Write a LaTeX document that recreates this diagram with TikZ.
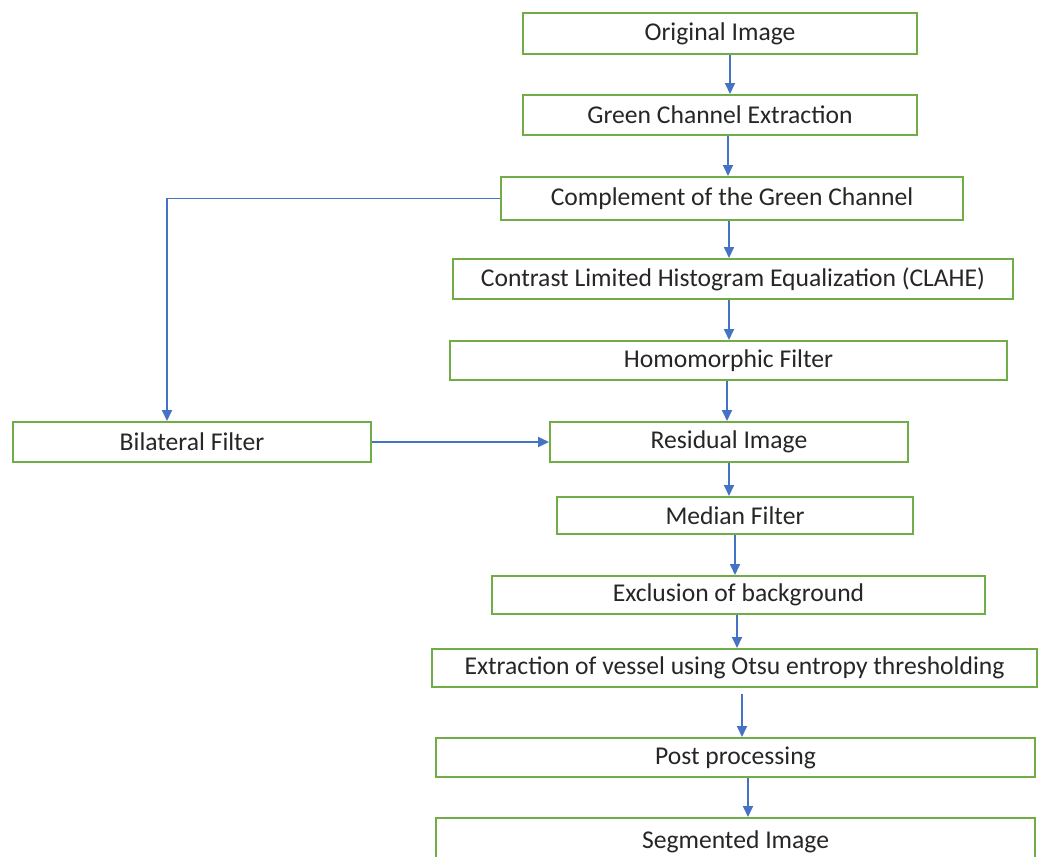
\documentclass[tikz,border=0pt]{standalone}
\usepackage{fontspec}
\setmainfont{Carlito}
\usetikzlibrary{arrows.meta}
\definecolor{boxgreen}{HTML}{70AD47}
\definecolor{flowblue}{HTML}{4472C4}
\definecolor{txtgray}{HTML}{262626}
\tikzset{
  stage/.style={draw=boxgreen, line width=1pt, fill=white, inner sep=0pt,
    text=txtgray, font=\fontsize{12.8}{15}\selectfont},
  flow/.style={draw=flowblue, line width=0.9pt, -{Triangle[length=5.5pt,width=5pt]}}
}
\begin{document}
\begin{tikzpicture}[x=0.5pt, y=-0.5pt]
            \useasboundingbox (0,0) rectangle (1045,857);
            % pipeline boxes (centre, width, height in px)
            \node[stage, minimum width=197pt, minimum height=20.5pt] (orig) at (720,33.5) {Original Image};
            \node[stage, minimum width=197pt, minimum height=20pt] (green) at (720,115) {Green Channel Extraction};
            \node[stage, minimum width=231pt, minimum height=21.5pt] (compl) at (732,198.5) {Complement of the Green Channel};
            \node[stage, minimum width=280pt, minimum height=20pt] (clahe) at (733,279) {Contrast Limited Histogram Equalization (CLAHE)};
            \node[stage, minimum width=278.5pt, minimum height=19.5pt] (homo) at (728.5,360.5) {Homomorphic Filter};
            \node[stage, minimum width=179pt, minimum height=20pt] (resid) at (729,442) {Residual Image};
            \node[stage, minimum width=179pt, minimum height=20pt] (bilat) at (192,442) {Bilateral Filter};
            \node[stage, minimum width=178pt, minimum height=18.5pt] (median) at (735,515.5) {Median Filter};
            \node[stage, minimum width=246.5pt, minimum height=19pt] (excl) at (738.5,595) {Exclusion of background};
            \node[stage, minimum width=302.5pt, minimum height=19pt] (otsu) at (734.5,668) {Extraction of vessel using Otsu entropy thresholding};
            \node[stage, minimum width=299.5pt, minimum height=19.5pt] (post) at (735.5,757.5) {Post processing};
            \node[stage, minimum width=299.5pt, minimum height=26pt, text depth=0pt] (seg) at (735.5,844) {\raisebox{4pt}{Segmented Image}};
            % arrows
            \draw[flow] (orig.south -| 730,0) -- (green.north -| 730,0);
            \draw[flow] (green.south -| 728,0) -- (compl.north -| 728,0);
            \draw[flow] (compl.south -| 729,0) -- (clahe.north -| 729,0);
            \draw[flow] (clahe.south -| 729,0) -- (homo.north -| 729,0);
            \draw[flow] (homo.south -| 727,0) -- (resid.north -| 727,0);
            \draw[flow] (resid.south -| 729,0) -- (median.north -| 729,0);
            \draw[flow] (median.south -| 735,0) -- (excl.north -| 735,0);
            \draw[flow] (excl.south -| 737,0) -- (otsu.north -| 737,0);
            \draw[flow] ([yshift=-3pt]otsu.south -| 742,0) -- (post.north -| 742,0);
            \draw[flow] (post.south -| 748,0) -- (seg.north -| 748,0);
            \draw[flow] (compl.west) -| (bilat.north -| 167,0);
            \draw[flow] (bilat.east) -- (resid.west);
        \end{tikzpicture}
\end{document}
